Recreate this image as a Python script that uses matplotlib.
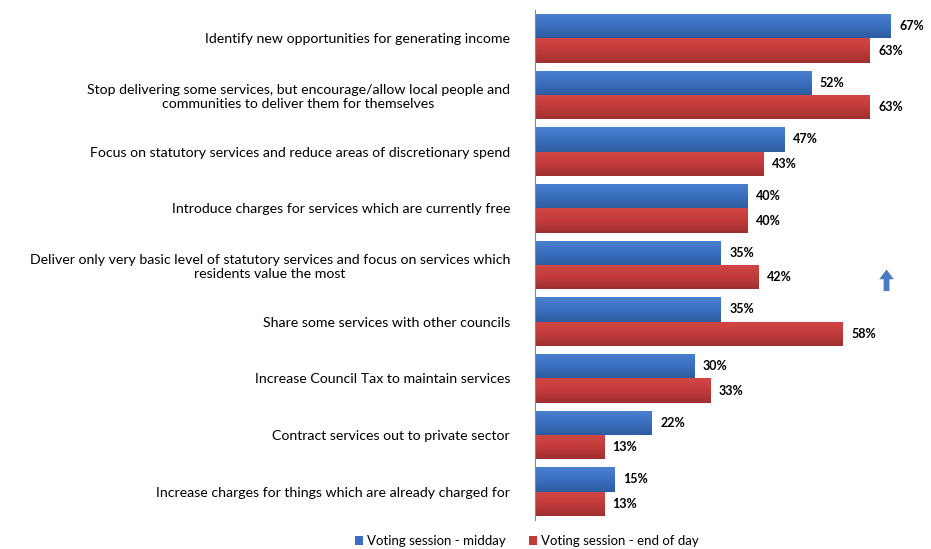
import matplotlib
matplotlib.use("Agg")
import matplotlib.pyplot as plt
import numpy as np
from matplotlib.colors import LinearSegmentedColormap

categories = [
    "Identify new opportunities for generating income",
    "Stop delivering some services, but encourage/allow local people and\ncommunities to deliver them for themselves",
    "Focus on statutory services and reduce areas of discretionary spend",
    "Introduce charges for services which are currently free",
    "Deliver only very basic level of statutory services and focus on services which\nresidents value the most",
    "Share some services with other councils",
    "Increase Council Tax to maintain services",
    "Contract services out to private sector",
    "Increase charges for things which are already charged for",
]
midday = [67, 52, 47, 40, 35, 35, 30, 22, 15]
end_of_day = [63, 63, 43, 40, 42, 58, 33, 13, 13]
series_names = ["Voting session - midday", "Voting session - end of day"]

plt.rcParams['font.family'] = ['Lato', 'DejaVu Sans']

fig = plt.figure(figsize=(9.31, 5.49), dpi=100)
ax = fig.add_axes([535/931, 1 - 520/549, (931 - 535)/931, (520 - 10)/549])

n = len(categories)
y = np.arange(n)
h = 0.43
blue = "#3A6FC2"
red = "#C43A3A"
b1 = ax.barh(y - h/2, midday, height=h, color=blue, edgecolor="none", label=series_names[0])
b2 = ax.barh(y + h/2, end_of_day, height=h, color=red, edgecolor="none", label=series_names[1])

cm_blue = LinearSegmentedColormap.from_list("b", ["#4A80D0", "#3A70C0", "#2E5C9F"])
cm_red = LinearSegmentedColormap.from_list("r", ["#D24645", "#C23B3B", "#9F2F2F"])
grad = np.linspace(0, 1, 64).reshape(-1, 1)
for rects, cmap in ((b1, cm_blue), (b2, cm_red)):
    for r in rects:
        x0, y0, w, hh = r.get_x(), r.get_y(), r.get_width(), r.get_height()
        im = ax.imshow(grad, cmap=cmap, aspect="auto",
                       extent=(x0, x0 + w, y0 + hh, y0), zorder=r.get_zorder() + 0.1,
                       interpolation="bicubic")
        im.set_clip_path(r)

for rects, vals in ((b1, midday), (b2, end_of_day)):
    for r, v in zip(rects, vals):
        ax.text(r.get_width() + 1.6, r.get_y() + r.get_height()/2, f"{v}%",
                va="center", ha="left", fontsize=9, fontweight="bold", clip_on=False)

ax.set_ylim(n - 0.5, -0.5)
ax.set_xlim(0, (931 - 535) / 5.31)
ax.set_yticks(y)
ax.set_yticklabels(categories, fontsize=10.2, multialignment="center")
ax.tick_params(axis="y", length=0, pad=18)
ax.set_xticks([])
for s in ("top", "right", "bottom"):
    ax.spines[s].set_visible(False)
ax.spines["left"].set_color("#888888")

# up arrow
ax.annotate("", xy=(66.2, 4.08), xytext=(66.2, 4.46),
            arrowprops=dict(arrowstyle="simple,head_width=0.75,head_length=0.5,tail_width=0.3",
                            mutation_scale=14, color="#4A7BC0", lw=0, shrinkA=0, shrinkB=0))

fig.legend(handles=[b1, b2], labels=series_names, loc="center", bbox_to_anchor=(527/931, 1 - 541/549),
           ncol=2, frameon=False, fontsize=9.5, handlelength=0.6, handleheight=0.6,
           columnspacing=1.8, handletextpad=0.3)

fig.savefig("out.png", dpi=100)
